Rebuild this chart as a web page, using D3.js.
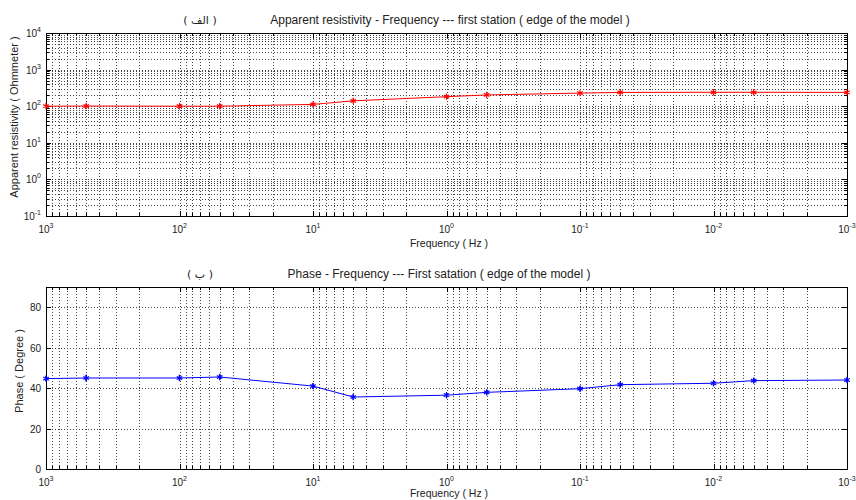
<!DOCTYPE html>
<html>
<head>
<meta charset="utf-8">
<script src="https://cdn.jsdelivr.net/npm/d3@7"></script>
<style>
    body { margin: 0; background: #fff; }
    svg { display: block; font-family: "Liberation Sans", Arial, sans-serif; }
    .grid line { stroke: #444; stroke-dasharray: 1,2; shape-rendering: crispEdges; }
    .grid path { display: none; }
    .ticks path { display: none; }
    .ticks line { stroke: #000; shape-rendering: crispEdges; }
</style>
</head>
<body>
<div id="chart"></div>
<script>
'use strict';

// Frequencies in Hz (axis is reversed: high frequency on the left).
var frequencies = [1000, 500, 100, 50, 10, 5, 1, 0.5, 0.1, 0.05, 0.01, 0.005, 0.001];

// Apparent resistivity (Ohm.m) and its error.
var resistivity    = [100, 101, 100, 100, 112, 140, 182, 203, 228, 238, 240, 240, 238];
var resistivityErr = [6, 14, 10, 10, 12, 12, 14, 14, 14, 14, 14, 14, 12];

// Phase (degree) and its error.
var phase    = [44.7, 45, 45, 45.5, 41, 35.6, 36.5, 37.9, 39.7, 41.7, 42.4, 43.7, 44];
var phaseErr = [1.2, 1.6, 1.4, 1.4, 1.4, 1.2, 1.2, 1.2, 1.2, 1.2, 1.2, 1.2, 1.0];

var freqDecades = [3, 2, 1, 0, -1, -2, -3];
var resDecades  = [-1, 0, 1, 2, 3, 4];
var phaseTicks  = [0, 20, 40, 60, 80];

var width  = 856,
    height = 500;

var svg = d3.select('#chart').append('svg')
    .attr('width', width)
    .attr('height', height);

// Minor values 2..9 inside every decade of a log range.
function minorValues(decades) {
    var out = [];
    for (var i = 0; i < decades.length; i++) {
        var base = Math.pow(10, decades[i]);
        for (var m = 2; m <= 9; m++) {
            out.push(base * m);
        }
    }
    return out;
}

function powerLabel(sel, exp) {
    sel.append('tspan').text('10');
    sel.append('tspan')
        .attr('dy', -5)
        .attr('font-size', 7)
        .text(exp);
}

function drawPanel(opts) {
    var x = d3.scaleLog().domain([1000, 0.001]).range([opts.left, opts.right]);
    var y = opts.y;
    var g = svg.append('g');
    var plotH = opts.bottom - opts.top;
    var plotW = opts.right - opts.left;

    var xMajor = freqDecades.map(function (d) { return Math.pow(10, d); });
    var xMinor = minorValues(freqDecades.slice(1));

    // Grid lines (vertical).
    g.append('g')
        .attr('class', 'grid')
        .attr('transform', 'translate(0,' + opts.bottom + ')')
        .call(d3.axisBottom(x).tickValues(xMajor.concat(xMinor)).tickSize(-plotH).tickFormat(''));

    // Grid lines (horizontal).
    g.append('g')
        .attr('class', 'grid')
        .attr('transform', 'translate(' + opts.left + ',0)')
        .call(d3.axisLeft(y).tickValues(opts.yGrid).tickSize(-plotW).tickFormat(''));

    // Inside ticks on all four sides.
    [
        d3.axisBottom(x).tickValues(xMajor).tickSize(-5),
        d3.axisBottom(x).tickValues(xMinor).tickSize(-3)
    ].forEach(function (ax) {
        g.append('g').attr('class', 'ticks')
            .attr('transform', 'translate(0,' + opts.bottom + ')')
            .call(ax.tickFormat(''));
    });
    [
        d3.axisTop(x).tickValues(xMajor).tickSize(-5),
        d3.axisTop(x).tickValues(xMinor).tickSize(-3)
    ].forEach(function (ax) {
        g.append('g').attr('class', 'ticks')
            .attr('transform', 'translate(0,' + opts.top + ')')
            .call(ax.tickFormat(''));
    });
    opts.yTicks.forEach(function (t) {
        g.append('g').attr('class', 'ticks')
            .attr('transform', 'translate(' + opts.left + ',0)')
            .call(d3.axisLeft(y).tickValues(t.values).tickSize(-t.size).tickFormat(''));
        g.append('g').attr('class', 'ticks')
            .attr('transform', 'translate(' + opts.right + ',0)')
            .call(d3.axisRight(y).tickValues(t.values).tickSize(-t.size).tickFormat(''));
    });

    // Box.
    g.append('rect')
        .attr('x', opts.left)
        .attr('y', opts.top)
        .attr('width', plotW)
        .attr('height', plotH)
        .attr('fill', 'none')
        .attr('stroke', '#000')
        .attr('stroke-width', 1)
        .attr('shape-rendering', 'crispEdges');

    // X tick labels.
    g.selectAll('.xlabel')
        .data(freqDecades)
        .enter().append('text')
        .attr('class', 'xlabel')
        .attr('x', function (d) { return x(Math.pow(10, d)); })
        .attr('y', opts.bottom + 17)
        .attr('text-anchor', 'middle')
        .attr('font-size', 10)
        .attr('fill', '#222')
        .each(function (d) { powerLabel(d3.select(this), d); });

    // Y tick labels.
    g.selectAll('.ylabel')
        .data(opts.yLabels)
        .enter().append('text')
        .attr('class', 'ylabel')
        .attr('x', opts.left - 5)
        .attr('y', function (d) { return y(d.value) + 4; })
        .attr('text-anchor', 'end')
        .attr('font-size', 10)
        .attr('fill', '#222')
        .each(function (d) {
            if (d.exp !== undefined) {
                powerLabel(d3.select(this), d.exp);
            } else {
                d3.select(this).text(d.text);
            }
        });

    // Axis titles.
    g.append('text')
        .attr('x', 449)
        .attr('y', opts.xTitleY)
        .attr('text-anchor', 'middle')
        .attr('font-size', 10.5)
        .attr('fill', '#222')
        .text('Frequency ( Hz )');

    g.append('text')
        .attr('transform', 'translate(' + opts.yTitleX + ',' + opts.yTitleY + ') rotate(-90)')
        .attr('text-anchor', 'middle')
        .attr('font-size', 11)
        .attr('fill', '#222')
        .text(opts.yTitle);

    // Title and Arabic panel letter.
    g.append('text')
        .attr('x', opts.titleX)
        .attr('y', opts.titleY)
        .attr('text-anchor', 'middle')
        .attr('font-size', 12)
        .attr('fill', '#222')
        .text(opts.title);

    g.append('text')
        .attr('x', 200)
        .attr('y', opts.titleY)
        .attr('text-anchor', 'middle')
        .attr('font-size', 11)
        .attr('fill', '#222')
        .attr('font-family', '"DejaVu Sans", sans-serif')
        .text(opts.letter);

    // Data: line, error bars, star markers.
    var pts = frequencies.map(function (f, i) {
        return {f: f, v: opts.values[i], e: opts.errors[i]};
    });

    g.append('path')
        .datum(pts)
        .attr('fill', 'none')
        .attr('stroke', opts.color)
        .attr('stroke-width', 1)
        .attr('d', d3.line()
            .x(function (d) { return x(d.f); })
            .y(function (d) { return y(d.v); }));

    g.selectAll('.err')
        .data(pts)
        .enter().append('line')
        .attr('class', 'err')
        .attr('x1', function (d) { return x(d.f); })
        .attr('x2', function (d) { return x(d.f); })
        .attr('y1', function (d) { return y(d.v - d.e); })
        .attr('y2', function (d) { return y(d.v + d.e); })
        .attr('stroke', opts.color)
        .attr('stroke-width', 1.5);

    g.selectAll('.mark')
        .data(pts)
        .enter().append('path')
        .attr('class', 'mark')
        .attr('transform', function (d) { return 'translate(' + x(d.f) + ',' + y(d.v) + ')'; })
        .attr('d', d3.symbol(d3.symbolAsterisk).size(28))
        .attr('fill', 'none')
        .attr('stroke', opts.color)
        .attr('stroke-width', 1.2);
}

// Top panel: apparent resistivity.
var yRes = d3.scaleLog().domain([0.1, 10000]).range([216, 33]);
var resMajor = resDecades.map(function (d) { return Math.pow(10, d); });
var resMinor = minorValues(resDecades.slice(0, -1));

drawPanel({
    left: 46, right: 847, top: 33, bottom: 216,
    y: yRes,
    yGrid: resMajor.concat(resMinor),
    yTicks: [{values: resMajor, size: 5}, {values: resMinor, size: 3}],
    yLabels: resDecades.map(function (d) { return {value: Math.pow(10, d), exp: d}; }),
    yTitle: 'Apparent  resistivity ( Ohmmeter )',
    yTitleX: 18, yTitleY: 117,
    xTitleY: 247,
    title: 'Apparent resistivity - Frequency --- first station ( edge of the model )',
    titleX: 450, titleY: 24,
    letter: '( الف )',
    values: resistivity,
    errors: resistivityErr,
    color: '#ff0000'
});

// Bottom panel: phase.
var yPhase = d3.scaleLinear().domain([0, 90]).range([469, 287]);

drawPanel({
    left: 46, right: 847, top: 287, bottom: 469,
    y: yPhase,
    yGrid: phaseTicks,
    yTicks: [{values: phaseTicks, size: 5}],
    yLabels: phaseTicks.map(function (d) { return {value: d, text: String(d)}; }),
    yTitle: 'Phase ( Degree )',
    yTitleX: 23, yTitleY: 371,
    xTitleY: 497,
    title: 'Phase - Frequency --- First satation ( edge of the model )',
    titleX: 439, titleY: 278,
    letter: '( ب )',
    values: phase,
    errors: phaseErr,
    color: '#0000ff'
});
</script>
</body>
</html>
